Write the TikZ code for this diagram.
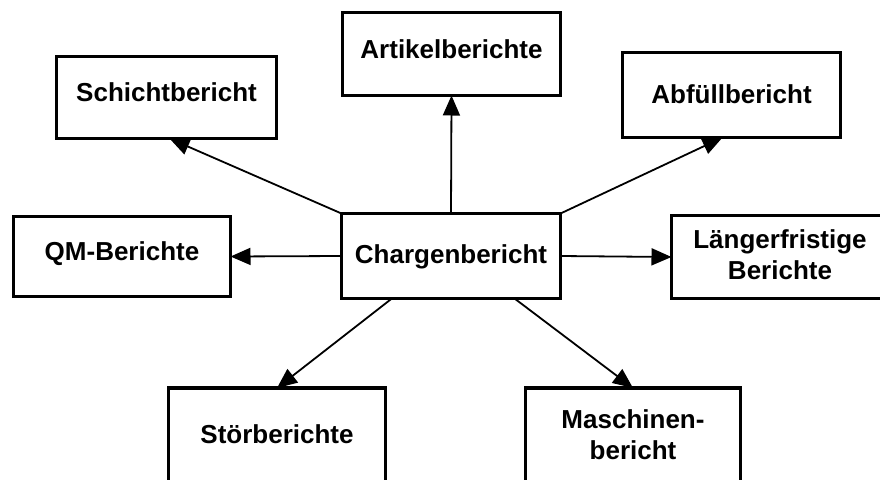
\documentclass[tikz,border=0pt]{standalone}
\usepackage{fontspec}
\setmainfont{Liberation Sans}
\usetikzlibrary{arrows.meta,calc}
\begin{document}
\begin{tikzpicture}[x=1pt,y=-1pt,
  report/.style={draw, line width=3.5pt, fill=white, outer sep=0pt, inner sep=2pt,
    align=center, font=\fontsize{26}{31}\selectfont\bfseries},
  link/.style={line width=1.8pt, -{Triangle[length=20pt,width=17pt]}}]
  \useasboundingbox (0,0) rectangle (880,479);
  \clip (0,0) rectangle (880,479);
  \fill[white] (0,0) rectangle (880,479);

  % central report
  \node[report, minimum width=219pt, minimum height=85pt, text depth=3pt] (c) at (451,256) {Chargenbericht};

  % derived reports
  \node[report, minimum width=218pt, minimum height=83pt, text depth=10pt] (a) at (451.5,54) {Artikelberichte};
  \node[report, minimum width=220pt, minimum height=82pt, text depth=11pt] (s) at (166.5,97.5) {Schichtbericht};
  \node[report, minimum width=218pt, minimum height=85pt, text depth=2pt] (f) at (731.5,95) {Abfüllbericht};
  \node[report, minimum width=217pt, minimum height=80pt, text depth=10pt] (q) at (122,256.5) {QM-Berichte};
  \node[report, minimum width=217pt, minimum height=83pt, text depth=4pt] (l) at (780,257) {Längerfristige\\Berichte};
  \node[report, minimum width=217pt, minimum height=104pt, text depth=11pt] (st) at (277,440) {Störberichte};
  \node[report, minimum width=215pt, minimum height=104pt, text depth=11pt] (m) at (633,440) {Maschinen-\\bericht};

  % connectors
  \draw[link] (c.north) -- (a.south);
  \draw[link] (c.north west) -- ($(s.south)+(3,0)$);
  \draw[link] (c.north east) -- ($(f.south)+(-9,0)$);
  \draw[link] (c.west) -- (q.east);
  \draw[link] (c.east) -- (l.west);
  \draw[link] ($(c.south west)!0.23!(c.south east)$) -- (st.north);
  \draw[link] ($(c.south west)!0.79!(c.south east)$) -- (m.north);
\end{tikzpicture}
\end{document}
